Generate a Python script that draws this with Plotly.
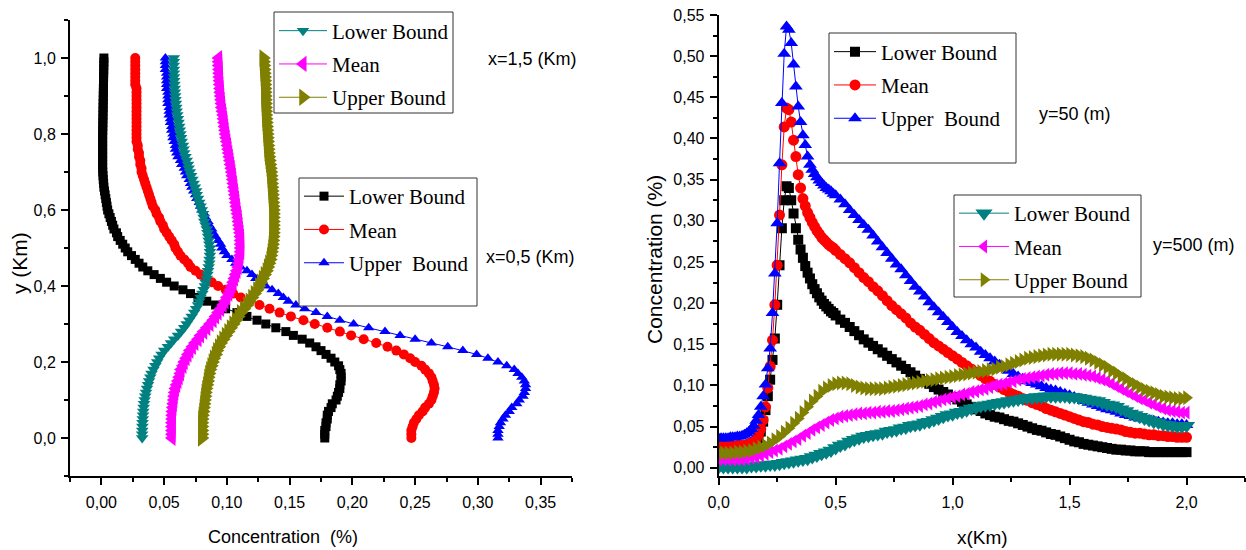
import numpy as np
import plotly.graph_objects as go

# ---------------- LEFT PANEL: vertical profiles, y (Km) 0..1 step 0.01 ----------------
y_km = np.round(np.arange(101) * 0.01, 2).tolist()

# x = 0,5 Km
conc_x05_lower = [
    0.178, 0.178, 0.178, 0.179, 0.179, 0.180, 0.180, 0.181, 0.183, 0.184,
    0.187, 0.188, 0.189, 0.190, 0.190, 0.191, 0.191, 0.191, 0.190, 0.189,
    0.186, 0.183, 0.179, 0.175, 0.171, 0.166, 0.160, 0.153, 0.147, 0.139,
    0.131, 0.124, 0.116, 0.108, 0.099, 0.091, 0.084, 0.077, 0.071, 0.065,
    0.058, 0.052, 0.047, 0.042, 0.037, 0.033, 0.030, 0.027, 0.024, 0.021,
    0.019, 0.017, 0.015, 0.013, 0.012, 0.010, 0.009, 0.008, 0.007, 0.006,
    0.005, 0.0045, 0.004, 0.0035, 0.003, 0.0025, 0.002, 0.0018, 0.0015, 0.0013,
    0.0011, 0.001, 0.001, 0.001, 0.001, 0.001, 0.001, 0.001, 0.001, 0.001,
    0.001, 0.0011, 0.0011, 0.0012, 0.0012, 0.0013, 0.0013, 0.0014, 0.0014, 0.0015,
    0.0015, 0.0016, 0.0016, 0.0017, 0.0017, 0.0018, 0.0018, 0.0019, 0.0019, 0.002,
    0.002]
conc_x05_mean = [
    0.247, 0.247, 0.247, 0.248, 0.249, 0.251, 0.253, 0.256, 0.258, 0.261,
    0.263, 0.264, 0.265, 0.2655, 0.265, 0.264, 0.263, 0.261, 0.258, 0.255,
    0.250, 0.246, 0.241, 0.235, 0.228, 0.219, 0.209, 0.199, 0.190, 0.180,
    0.170, 0.161, 0.151, 0.142, 0.134, 0.126, 0.118, 0.111, 0.105, 0.099,
    0.093, 0.088, 0.083, 0.079, 0.075, 0.071, 0.069, 0.066, 0.063, 0.061,
    0.059, 0.058, 0.056, 0.054, 0.052, 0.050, 0.049, 0.047, 0.046, 0.044,
    0.043, 0.041, 0.040, 0.039, 0.038, 0.037, 0.036, 0.035, 0.034, 0.033,
    0.032, 0.032, 0.031, 0.031, 0.030, 0.030, 0.029, 0.029, 0.028, 0.028,
    0.028, 0.028, 0.028, 0.028, 0.028, 0.028, 0.028, 0.028, 0.028, 0.028,
    0.028, 0.028, 0.028, 0.027, 0.027, 0.027, 0.027, 0.027, 0.027, 0.027,
    0.027]
conc_x05_upper = [
    0.316, 0.316, 0.316, 0.317, 0.318, 0.320, 0.322, 0.325, 0.327, 0.331,
    0.333, 0.336, 0.337, 0.338, 0.338, 0.337, 0.335, 0.332, 0.329, 0.323,
    0.316, 0.308, 0.299, 0.288, 0.276, 0.263, 0.250, 0.238, 0.226, 0.213,
    0.201, 0.190, 0.180, 0.171, 0.162, 0.155, 0.149, 0.145, 0.141, 0.136,
    0.131, 0.127, 0.123, 0.120, 0.116, 0.111, 0.107, 0.104, 0.100, 0.098,
    0.096, 0.095, 0.093, 0.091, 0.089, 0.088, 0.086, 0.085, 0.083, 0.082,
    0.080, 0.079, 0.078, 0.076, 0.075, 0.0735, 0.072, 0.071, 0.070, 0.068,
    0.067, 0.066, 0.064, 0.063, 0.061, 0.060, 0.059, 0.059, 0.058, 0.057,
    0.057, 0.056, 0.056, 0.055, 0.055, 0.054, 0.054, 0.054, 0.053, 0.053,
    0.053, 0.053, 0.052, 0.052, 0.052, 0.052, 0.052, 0.051, 0.051, 0.051,
    0.051]

# x = 1,5 Km
conc_x15_lower = [
    0.0325, 0.0325, 0.0326, 0.0327, 0.0328, 0.033, 0.0332, 0.0334, 0.0337, 0.034,
    0.0345, 0.035, 0.0356, 0.0363, 0.0372, 0.038, 0.039, 0.040, 0.0415, 0.043,
    0.0445, 0.046, 0.048, 0.050, 0.053, 0.0555, 0.058, 0.061, 0.0635, 0.066,
    0.068, 0.070, 0.072, 0.074, 0.0755, 0.077, 0.078, 0.079, 0.0805, 0.0815,
    0.0825, 0.083, 0.084, 0.0845, 0.085, 0.0855, 0.086, 0.0862, 0.0865, 0.0865,
    0.0865, 0.086, 0.0855, 0.085, 0.0845, 0.084, 0.083, 0.082, 0.0815, 0.081,
    0.080, 0.079, 0.078, 0.077, 0.076, 0.0755, 0.0745, 0.0735, 0.0725, 0.0715,
    0.0705, 0.0695, 0.069, 0.068, 0.067, 0.066, 0.0655, 0.065, 0.064, 0.0635,
    0.063, 0.0625, 0.062, 0.0615, 0.061, 0.0605, 0.060, 0.0597, 0.0594, 0.059,
    0.0588, 0.0586, 0.0584, 0.0582, 0.058, 0.0579, 0.0578, 0.0578, 0.0577, 0.0577,
    0.0577]
conc_x15_mean = [
    0.0563, 0.0563, 0.0563, 0.0563, 0.0563, 0.0564, 0.0565, 0.0567, 0.057, 0.0573,
    0.0577, 0.058, 0.0585, 0.059, 0.060, 0.061, 0.062, 0.063, 0.0635, 0.065,
    0.066, 0.0675, 0.069, 0.0705, 0.0725, 0.0745, 0.077, 0.079, 0.0815, 0.084,
    0.0865, 0.089, 0.091, 0.093, 0.095, 0.097, 0.0985, 0.100, 0.1015, 0.103,
    0.104, 0.105, 0.106, 0.107, 0.108, 0.109, 0.1095, 0.110, 0.1105, 0.111,
    0.111, 0.111, 0.111, 0.1108, 0.1105, 0.110, 0.1097, 0.1093, 0.109, 0.1085,
    0.108, 0.1076, 0.1072, 0.1068, 0.1064, 0.106, 0.1056, 0.1052, 0.1048, 0.1044,
    0.104, 0.1035, 0.103, 0.1025, 0.102, 0.1015, 0.101, 0.1005, 0.100, 0.0995,
    0.099, 0.0986, 0.0982, 0.0978, 0.0974, 0.097, 0.0965, 0.096, 0.0957, 0.0954,
    0.0951, 0.0948, 0.0946, 0.0944, 0.0942, 0.094, 0.0939, 0.0938, 0.0936, 0.0935,
    0.0934]
conc_x15_upper = [
    0.080, 0.080, 0.080, 0.080, 0.080, 0.0802, 0.0805, 0.081, 0.0813, 0.0817,
    0.082, 0.0825, 0.0828, 0.0833, 0.084, 0.0846, 0.085, 0.0857, 0.0865, 0.0875,
    0.0885, 0.0895, 0.091, 0.092, 0.0935, 0.095, 0.097, 0.099, 0.101, 0.103,
    0.105, 0.107, 0.109, 0.111, 0.1135, 0.116, 0.118, 0.120, 0.122, 0.124,
    0.1255, 0.127, 0.1285, 0.130, 0.1315, 0.1325, 0.1335, 0.1345, 0.135, 0.1355,
    0.136, 0.1363, 0.1366, 0.1368, 0.137, 0.137, 0.137, 0.137, 0.137, 0.137,
    0.137, 0.1368, 0.1366, 0.1364, 0.1362, 0.136, 0.1358, 0.1356, 0.1354, 0.1352,
    0.135, 0.1346, 0.1342, 0.1338, 0.1334, 0.133, 0.1328, 0.1326, 0.1324, 0.1322,
    0.132, 0.1318, 0.1316, 0.1314, 0.1312, 0.131, 0.1309, 0.1308, 0.1307, 0.1306,
    0.1305, 0.1304, 0.1303, 0.1302, 0.1301, 0.130, 0.1298, 0.1296, 0.1294, 0.1292,
    0.129]

# ---------------- RIGHT PANEL: longitudinal profiles, x (Km) 0..2 ----------------
# y = 50 m : step 0.01 up to 0.50, then step 0.02
x_km_y50 = (np.round(np.arange(51) * 0.01, 2).tolist()
            + np.round(0.52 + np.arange(75) * 0.02, 2).tolist())
conc_y50_lower = [
    0.025, 0.025, 0.025, 0.025, 0.025, 0.025, 0.025, 0.025, 0.025, 0.025,
    0.025, 0.025, 0.025, 0.026, 0.026, 0.028, 0.031, 0.036, 0.044, 0.056,
    0.070, 0.087, 0.107, 0.131, 0.157, 0.198, 0.246, 0.291, 0.325, 0.342,
    0.340, 0.325, 0.309, 0.291, 0.277, 0.265, 0.255, 0.245, 0.237, 0.230,
    0.223, 0.217, 0.212, 0.207, 0.203, 0.199, 0.196, 0.193, 0.190, 0.188, 0.185,
    0.180, 0.176, 0.171, 0.166, 0.161, 0.156, 0.152, 0.148, 0.144, 0.140,
    0.136, 0.132, 0.128, 0.124, 0.120, 0.116, 0.112, 0.108, 0.105, 0.102,
    0.098, 0.095, 0.092, 0.089, 0.086, 0.083, 0.080, 0.077, 0.074, 0.071,
    0.069, 0.066, 0.064, 0.062, 0.061, 0.059, 0.057, 0.056, 0.054, 0.052,
    0.050, 0.048, 0.046, 0.045, 0.043, 0.041, 0.040, 0.038, 0.036, 0.034,
    0.032, 0.031, 0.029, 0.028, 0.027, 0.026, 0.025, 0.024, 0.023, 0.022,
    0.022, 0.021, 0.021, 0.020, 0.020, 0.020, 0.019, 0.019, 0.019, 0.019,
    0.019, 0.019, 0.019, 0.019, 0.019]
conc_y50_mean = [
    0.026, 0.026, 0.026, 0.026, 0.026, 0.026, 0.026, 0.026, 0.027, 0.027,
    0.027, 0.027, 0.028, 0.029, 0.030, 0.032, 0.035, 0.040, 0.047, 0.058,
    0.074, 0.097, 0.123, 0.155, 0.198, 0.246, 0.307, 0.368, 0.414, 0.437,
    0.435, 0.420, 0.398, 0.378, 0.356, 0.340, 0.327, 0.318, 0.310, 0.304,
    0.298, 0.293, 0.288, 0.284, 0.280, 0.277, 0.274, 0.271, 0.269, 0.267, 0.264,
    0.259, 0.254, 0.249, 0.243, 0.237, 0.231, 0.226, 0.220, 0.215, 0.209,
    0.203, 0.197, 0.192, 0.187, 0.182, 0.176, 0.171, 0.167, 0.162, 0.157,
    0.152, 0.148, 0.144, 0.140, 0.136, 0.132, 0.128, 0.124, 0.120, 0.116,
    0.112, 0.108, 0.105, 0.101, 0.098, 0.095, 0.092, 0.089, 0.087, 0.084,
    0.082, 0.079, 0.077, 0.075, 0.072, 0.070, 0.068, 0.066, 0.064, 0.062,
    0.060, 0.058, 0.056, 0.055, 0.053, 0.052, 0.050, 0.049, 0.048, 0.047,
    0.046, 0.044, 0.043, 0.042, 0.042, 0.041, 0.040, 0.040, 0.039, 0.039,
    0.038, 0.038, 0.037, 0.037, 0.037]
conc_y50_upper = [
    0.036, 0.036, 0.036, 0.036, 0.036, 0.037, 0.037, 0.037, 0.038, 0.038,
    0.039, 0.040, 0.042, 0.044, 0.047, 0.051, 0.057, 0.064, 0.074, 0.087,
    0.101, 0.121, 0.145, 0.188, 0.236, 0.297, 0.370, 0.443, 0.503, 0.536,
    0.532, 0.516, 0.490, 0.463, 0.439, 0.420, 0.404, 0.392, 0.378, 0.368,
    0.362, 0.357, 0.353, 0.349, 0.346, 0.343, 0.340, 0.338, 0.336, 0.333, 0.331,
    0.326, 0.320, 0.313, 0.307, 0.301, 0.295, 0.289, 0.282, 0.275, 0.268,
    0.261, 0.254, 0.247, 0.241, 0.234, 0.227, 0.220, 0.214, 0.208, 0.201,
    0.195, 0.189, 0.183, 0.177, 0.171, 0.165, 0.160, 0.155, 0.150, 0.146,
    0.141, 0.137, 0.133, 0.129, 0.125, 0.121, 0.118, 0.114, 0.111, 0.108,
    0.105, 0.103, 0.101, 0.099, 0.097, 0.095, 0.094, 0.092, 0.090, 0.088,
    0.086, 0.084, 0.081, 0.079, 0.077, 0.075, 0.073, 0.071, 0.070, 0.068,
    0.066, 0.064, 0.063, 0.061, 0.060, 0.059, 0.058, 0.057, 0.056, 0.055,
    0.054, 0.054, 0.053, 0.053, 0.052]

# y = 500 m : step 0.02
x_km_y500 = np.round(np.arange(101) * 0.02, 2).tolist()
conc_y500_lower = [
    0.001, 0.001, 0.001, 0.001, 0.001, 0.001, 0.001, 0.002, 0.002, 0.003,
    0.003, 0.004, 0.004, 0.005, 0.006, 0.007, 0.008, 0.009, 0.010, 0.011,
    0.013, 0.015, 0.017, 0.019, 0.021, 0.024, 0.027, 0.029, 0.032, 0.034,
    0.036, 0.038, 0.039, 0.040, 0.041, 0.042, 0.044, 0.045, 0.046, 0.048,
    0.049, 0.051, 0.052, 0.053, 0.055, 0.056, 0.058, 0.060, 0.062, 0.064,
    0.065, 0.067, 0.068, 0.070, 0.072, 0.073, 0.075, 0.076, 0.077, 0.078,
    0.079, 0.080, 0.081, 0.082, 0.083, 0.084, 0.085, 0.085, 0.086, 0.086,
    0.087, 0.087, 0.087, 0.087, 0.087, 0.086, 0.086, 0.085, 0.084, 0.083,
    0.082, 0.081, 0.079, 0.077, 0.076, 0.074, 0.071, 0.069, 0.066, 0.064,
    0.062, 0.060, 0.058, 0.056, 0.055, 0.053, 0.052, 0.051, 0.050, 0.050,
    0.051]
conc_y500_mean = [
    0.010, 0.010, 0.010, 0.010, 0.010, 0.010, 0.011, 0.012, 0.013, 0.015,
    0.017, 0.019, 0.021, 0.023, 0.026, 0.029, 0.032, 0.035, 0.039, 0.042,
    0.046, 0.049, 0.052, 0.055, 0.058, 0.060, 0.062, 0.063, 0.064, 0.065,
    0.066, 0.066, 0.067, 0.067, 0.068, 0.068, 0.069, 0.069, 0.070, 0.071,
    0.072, 0.073, 0.074, 0.075, 0.077, 0.078, 0.080, 0.081, 0.083, 0.084,
    0.086, 0.087, 0.089, 0.090, 0.092, 0.093, 0.095, 0.096, 0.098, 0.100,
    0.101, 0.102, 0.104, 0.105, 0.107, 0.108, 0.109, 0.110, 0.111, 0.112,
    0.113, 0.114, 0.114, 0.115, 0.115, 0.115, 0.114, 0.114, 0.113, 0.112,
    0.111, 0.109, 0.107, 0.105, 0.102, 0.099, 0.096, 0.093, 0.090, 0.087,
    0.084, 0.082, 0.079, 0.077, 0.074, 0.072, 0.070, 0.069, 0.068, 0.067,
    0.067]
conc_y500_upper = [
    0.018, 0.018, 0.018, 0.018, 0.019, 0.019, 0.020, 0.021, 0.023, 0.025,
    0.027, 0.030, 0.034, 0.038, 0.043, 0.048, 0.054, 0.060, 0.067, 0.074,
    0.081, 0.087, 0.093, 0.097, 0.100, 0.102, 0.103, 0.103, 0.102, 0.100,
    0.098, 0.097, 0.096, 0.096, 0.096, 0.096, 0.097, 0.098, 0.099, 0.100,
    0.101, 0.102, 0.103, 0.104, 0.105, 0.106, 0.107, 0.108, 0.109, 0.110,
    0.111, 0.112, 0.113, 0.114, 0.115, 0.116, 0.117, 0.118, 0.119, 0.120,
    0.122, 0.123, 0.125, 0.127, 0.129, 0.131, 0.133, 0.134, 0.135, 0.136,
    0.137, 0.138, 0.138, 0.138, 0.138, 0.138, 0.137, 0.136, 0.135, 0.133,
    0.131, 0.128, 0.125, 0.122, 0.118, 0.115, 0.111, 0.108, 0.104, 0.101,
    0.098, 0.095, 0.093, 0.091, 0.089, 0.087, 0.086, 0.085, 0.084, 0.084,
    0.085]

legend_names = ["Lower Bound", "Mean", "Upper Bound"]
legend_names_b = ["Lower Bound", "Mean", "Upper  Bound"]

BLACK, RED, BLUE = "#000000", "#FF0000", "#0000FF"
TEAL, MAGENTA, OLIVE = "#008080", "#FF00FF", "#808000"

fig = go.Figure()


def add(x, y, name, color, symbol, size, xa, ya, leg, grp):
    fig.add_trace(go.Scatter(
        x=x, y=y, mode="lines+markers", name=name,
        line=dict(color=color, width=1),
        marker=dict(symbol=symbol, size=size, color=color, line=dict(width=0)),
        xaxis=xa, yaxis=ya, legend=leg, legendgroup=grp))


# left panel (x = 0,5 drawn first, x = 1,5 on top)
add(conc_x05_lower, y_km, legend_names_b[0], BLACK, "square", 9, "x", "y", "legend2", "a1")
add(conc_x05_mean, y_km, legend_names_b[1], RED, "circle", 10, "x", "y", "legend2", "a2")
add(conc_x05_upper, y_km, legend_names_b[2], BLUE, "triangle-up", 10, "x", "y", "legend2", "a3")
add(conc_x15_lower, y_km, legend_names[0], TEAL, "triangle-down", 11, "x", "y", "legend", "b1")
add(conc_x15_mean, y_km, legend_names[1], MAGENTA, "triangle-left", 14, "x", "y", "legend", "b2")
add(conc_x15_upper, y_km, legend_names[2], OLIVE, "triangle-right", 15, "x", "y", "legend", "b3")

# right panel (y = 50 drawn first, y = 500 on top)
add(x_km_y50, conc_y50_lower, legend_names_b[0], BLACK, "square", 10, "x2", "y2", "legend3", "c1")
add(x_km_y50, conc_y50_mean, legend_names_b[1], RED, "circle", 11, "x2", "y2", "legend3", "c2")
add(x_km_y50, conc_y50_upper, legend_names_b[2], BLUE, "triangle-up", 12, "x2", "y2", "legend3", "c3")
add(x_km_y500, conc_y500_lower, legend_names[0], TEAL, "triangle-down", 15, "x2", "y2", "legend4", "d1")
add(x_km_y500, conc_y500_mean, legend_names[1], MAGENTA, "triangle-left", 12, "x2", "y2", "legend4", "d2")
add(x_km_y500, conc_y500_upper, legend_names[2], OLIVE, "triangle-right", 13, "x2", "y2", "legend4", "d3")

W, H = 1246, 550
SANS = "Liberation Sans, Arial, sans-serif"
SERIF = "Liberation Serif, Times New Roman, serif"


def px(v):
    return v / W


def py(v):
    return 1 - v / H


axis_common = dict(
    showline=True, linecolor="black", linewidth=2, mirror=False,
    ticks="outside", ticklen=7, tickwidth=1.5, tickcolor="black",
    showgrid=False, zeroline=False, automargin=False,
    tickfont=dict(family=SANS, size=16, color="black"),
)
minor_common = dict(ticks="outside", ticklen=4, tickwidth=1.5, tickcolor="black")

fig.update_layout(
    width=W, height=H,
    margin=dict(l=0, r=0, t=0, b=0, pad=0, autoexpand=False),
    paper_bgcolor="white", plot_bgcolor="white",
    separators=",.",
    showlegend=True,
    xaxis=dict(axis_common, domain=[px(70), px(572)], range=[-0.025, 0.375],
               anchor="y", tick0=0, dtick=0.05, tickformat=".2f", ticklabelstandoff=4,
               minor=dict(minor_common, dtick=0.025)),
    yaxis=dict(axis_common, domain=[1 - 476 / H, 1 - 20 / H], range=[-0.1, 1.1],
               anchor="x", tick0=0, dtick=0.2, tickformat=".1f", ticklabelstandoff=2,
               minor=dict(minor_common, dtick=0.1)),
    xaxis2=dict(axis_common, domain=[px(718.7), px(1245)], range=[0, 2.25],
                anchor="y2", tick0=0, dtick=0.5, tickformat=".1f", ticklabelstandoff=4,
                minor=dict(minor_common, dtick=0.25)),
    yaxis2=dict(axis_common, domain=[1 - 476 / H, 1 - 15 / H], range=[-0.01, 0.55],
                anchor="x2", tick0=0, dtick=0.05, tickformat=".2f", ticklabelstandoff=2,
                minor=dict(minor_common, dtick=0.025)),
)

leg_common = dict(
    font=dict(family=SERIF, size=21, color="black"),
    bgcolor="rgba(0,0,0,0)", borderwidth=0,
    xanchor="left", yanchor="top", tracegroupgap=3, itemclick=False, itemdoubleclick=False,
)
fig.update_layout(
    legend=dict(leg_common, x=px(274), y=py(10.5), itemwidth=48),
    legend2=dict(leg_common, x=px(299), y=py(176), itemwidth=40),
    legend3=dict(leg_common, x=px(829), y=py(31.5), itemwidth=42),
    legend4=dict(leg_common, x=px(954), y=py(193), itemwidth=50),
)

# legend frames (Origin style boxes)
boxes = [(274, 12, 453, 113), (299, 178, 477, 306), (829, 33, 1016, 163), (954, 195, 1141, 297)]
for (x0, y0, x1, y1) in boxes:
    fig.add_shape(type="rect", xref="paper", yref="paper",
                  x0=px(x0), x1=px(x1), y0=py(y1), y1=py(y0),
                  line=dict(color="#333333", width=1), fillcolor="white", layer="above")

# annotations: axis titles and panel labels
ann = [
    dict(text="y (Km)", x=px(19), y=py(263), textangle=-90, size=21),
    dict(text="Concentration  (%)", x=px(282.5), y=py(537), textangle=0, size=18),
    dict(text="Concentration (%)", x=px(655), y=py(260), textangle=-90, size=21),
    dict(text="x(Km)", x=px(982), y=py(537), textangle=0, size=19),
    dict(text="x=1,5 (Km)", x=px(532), y=py(59), textangle=0, size=18),
    dict(text="x=0,5 (Km)", x=px(530), y=py(257), textangle=0, size=18),
    dict(text="y=50 (m)", x=px(1075), y=py(114), textangle=0, size=18),
    dict(text="y=500 (m)", x=px(1194), y=py(245), textangle=0, size=18),
]
for a in ann:
    fig.add_annotation(text=a["text"], x=a["x"], y=a["y"], xref="paper", yref="paper",
                       xanchor="center", yanchor="middle", showarrow=False, textangle=a["textangle"],
                       font=dict(family=SANS, size=a["size"], color="black"))

fig.write_html("out.html", config={"displayModeBar": False},
               post_script="document.body.style.margin='0';")
